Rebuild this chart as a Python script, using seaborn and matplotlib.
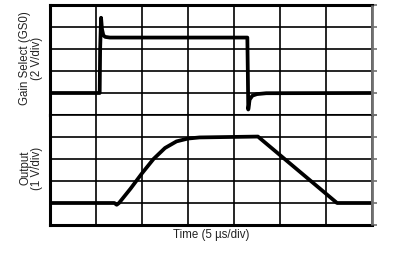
import matplotlib
matplotlib.use("Agg")
import matplotlib.pyplot as plt
import seaborn as sns
import pandas as pd

# Gain Select (GS0) trace, in divisions (time div, volt div)
gs_time = [0.0, 1.08, 1.09, 1.11, 1.13, 1.16, 1.20, 1.30, 4.29, 4.30, 4.31, 4.34, 4.40, 4.50, 4.70, 7.0]
gs_level = [1.0, 1.0, 3.0, 4.42, 3.90, 3.62, 3.55, 3.52, 3.52, 2.0, 0.25, 0.70, 0.88, 0.95, 0.99, 1.0]

# Output trace, in divisions
out_time = [0.0, 1.40, 1.45, 1.50, 1.75, 2.00, 2.25, 2.50, 2.75, 3.00, 3.25, 4.52, 6.24, 7.0]
out_level = [1.0, 1.0, 0.92, 1.0, 1.65, 2.35, 3.0, 3.50, 3.80, 3.93, 3.98, 4.02, 1.0, 1.0]

gs_label = "Gain Select (GS0)\n(2 V/div)"
out_label = "Output\n(1 V/div)"
x_label = "Time (5 \u00b5s/div)"

sns.set_style("white")
plt.rcParams['font.family'] = ['Liberation Sans', 'DejaVu Sans']

fig = plt.figure(figsize=(4.06, 2.66), dpi=100)
W, H = 406, 266
left, right = 50 / W, 372 / W
y_top, y_mid, y_bot = 1 - 5 / H, 1 - 115 / H, 1 - 225 / H
ax1 = fig.add_axes([left, y_mid, right - left, y_top - y_mid])
ax2 = fig.add_axes([left, y_bot, right - left, y_mid - y_bot])

df_gs = pd.DataFrame({"t": gs_time, "v": gs_level})
df_out = pd.DataFrame({"t": out_time, "v": out_level})

for ax, df in ((ax1, df_gs), (ax2, df_out)):
    sns.lineplot(data=df, x="t", y="v", ax=ax, color="black", linewidth=2.7,
                 sort=False, estimator=None, zorder=5)
    ax.set_xlim(0, 7)
    ax.set_ylim(0, 5)
    ax.set_xticks(range(0, 8))
    ax.set_yticks(range(0, 6))
    ax.grid(True, color="black", linewidth=1.2)
    ax.set_xlabel("")
    ax.set_ylabel("")
    ax.tick_params(axis="x", length=0, labelbottom=False)
    ax.tick_params(axis="y", left=False, labelleft=False, right=True,
                   direction="out", length=3.5, color="#707070", width=1.2)
    for s in ("top", "left", "bottom"):
        ax.spines[s].set_visible(True)
        ax.spines[s].set_color("black")
        ax.spines[s].set_linewidth(2.2)
    ax.spines["right"].set_visible(False)
    ax.plot([1, 1], [0, 1], transform=ax.transAxes, color="#707070",
            linewidth=2.0, clip_on=False, zorder=10, solid_capstyle="butt")
    ax.set_facecolor("white")

ax2.spines["top"].set_visible(False)

fig.text(31 / W, 1 - 58 / H, gs_label, rotation=90, ha="center", va="center",
         fontsize=8.3, color="#222222", linespacing=0.95)
fig.text(31 / W, 1 - 168 / H, out_label, rotation=90, ha="center", va="center",
         fontsize=8.3, color="#222222", linespacing=0.95)
fig.text(211 / W, 1 - 235 / H, x_label, ha="center", va="center",
         fontsize=8.3, color="#222222")

fig.savefig("out.png", dpi=100, facecolor="white")
